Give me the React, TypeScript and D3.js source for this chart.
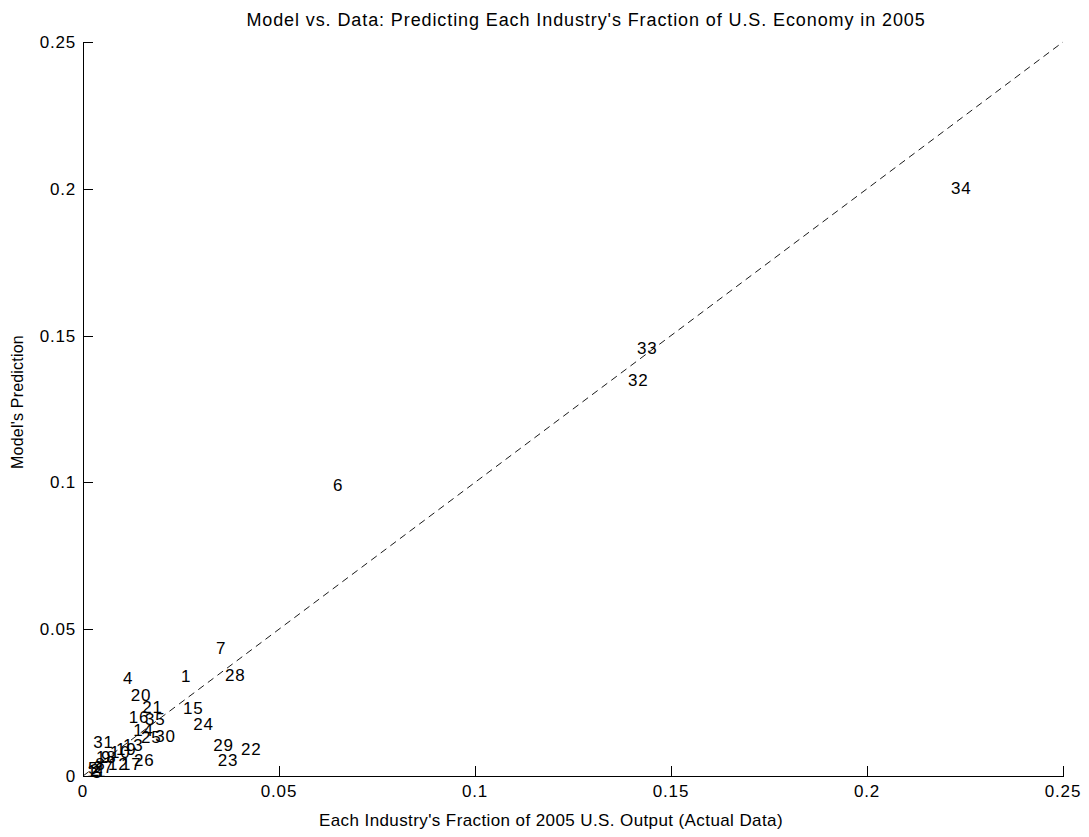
import React from "react";
import * as d3 from "d3";

// Industry numbers and their (actual share, predicted share) of 2005 U.S. output
const industries = [
  1, 2, 3, 4, 5, 6, 7, 8, 9, 10, 11, 12, 13, 14, 15, 16, 17, 18, 19, 20, 21, 22, 23, 24, 25, 26, 27, 28, 29, 30, 31, 32, 33, 34, 35,
];
const actualShare = [
  0.025, 0.0018, 0.0023, 0.0102, 0.0013, 0.0638, 0.0339, 0.0031, 0.0046, 0.0069, 0.001, 0.0064, 0.0102, 0.0128, 0.0255, 0.0117,
  0.0097, 0.0033, 0.0084, 0.0122, 0.0151, 0.0403, 0.0344, 0.0281, 0.0148, 0.013, 0.0026, 0.0362, 0.0332, 0.0184, 0.0026, 0.139,
  0.1413, 0.2214, 0.0158,
];
const predictedShare = [
  0.0341, 0.002, 0.0014, 0.0334, 0.0027, 0.0991, 0.0436, 0.0041, 0.0065, 0.0082, 0.0017, 0.0041, 0.0106, 0.0157, 0.0232, 0.0201,
  0.0041, 0.0065, 0.0092, 0.0276, 0.0235, 0.0092, 0.0054, 0.0177, 0.0133, 0.0054, 0.0031, 0.0344, 0.0106, 0.0136, 0.0116, 0.1349,
  0.1458, 0.2003, 0.0194,
];
const xTicks = [0, 0.05, 0.1, 0.15, 0.2, 0.25];
const yTicks = [0, 0.05, 0.1, 0.15, 0.2, 0.25];
const titleText = "Model vs. Data: Predicting Each Industry's Fraction of U.S. Economy in 2005";
const xLabelText = "Each Industry's Fraction of 2005 U.S. Output (Actual Data)";
const yLabelText = "Model's Prediction";

const W = 1089;
const H = 837;
const left = 83;
const right = 1063;
const top = 42;
const bottom = 776;
const font = "'Liberation Sans', Arial, sans-serif";
const fs = 17;
const tickLen = 10;

export default function App() {
  const x = d3.scaleLinear().domain([0, 0.25]).range([left, right]);
  const y = d3.scaleLinear().domain([0, 0.25]).range([bottom, top]);
  const fmt = (v: number) => (v === 0 ? "0" : String(+v.toFixed(2)));

  const refLine = d3
    .line<[number, number]>()
    .x((d) => x(d[0]))
    .y((d) => y(d[1]))([
    [0, 0],
    [0.25, 0.25],
  ]);

  return (
    <svg
      width={W}
      height={H}
      style={{ position: "absolute", left: 0, top: 0, background: "#fff" }}
      fontFamily={font}
      fontSize={fs}
    >
      <rect x={0} y={0} width={W} height={H} fill="#fff" />
      {/* 45-degree reference line */}
      <path d={refLine ?? ""} fill="none" stroke="#000" strokeWidth={0.9} strokeDasharray="7 5" />

      {/* axes */}
      <g shapeRendering="crispEdges" stroke="#000" strokeWidth={1}>
        <line x1={left + 0.5} x2={left + 0.5} y1={top} y2={bottom + 0.5} />
        <line x1={left} x2={right + 0.5} y1={bottom + 0.5} y2={bottom + 0.5} />
        {xTicks.map((t) => (
          <line key={"xt" + t} x1={Math.round(x(t)) + 0.5} x2={Math.round(x(t)) + 0.5} y1={bottom} y2={bottom - tickLen} />
        ))}
        {yTicks.map((t) => (
          <line key={"yt" + t} x1={left} x2={left + tickLen} y1={Math.round(y(t)) + 0.5} y2={Math.round(y(t)) + 0.5} />
        ))}
      </g>
      <g fill="#000" letterSpacing={0.8}>
        {xTicks.map((t) => (
          <text key={"xl" + t} x={x(t)} y={bottom + 21} textAnchor="middle">
            {fmt(t)}
          </text>
        ))}
        {yTicks.map((t) => (
          <text key={"yl" + t} x={left - 7} y={y(t)} dy="0.35em" textAnchor="end">
            {fmt(t)}
          </text>
        ))}
      </g>

      {/* industry labels placed at their data points */}
      <g fill="#000" letterSpacing={0.8}>
        {industries.map((id, i) => (
          <text key={"p" + id} x={x(actualShare[i])} y={y(predictedShare[i])} dy="0.35em">
            {id}
          </text>
        ))}
      </g>

      <text x={586} y={26} textAnchor="middle" fill="#000" fontSize={18} letterSpacing={0.9}>
        {titleText}
      </text>
      <text x={551} y={826} textAnchor="middle" fill="#000" letterSpacing={0.4}>
        {xLabelText}
      </text>
      <text
        transform={`translate(23,${402}) rotate(-90)`}
        textAnchor="middle"
        fill="#000"
        fontSize={16}
        letterSpacing={0.2}
      >
        {yLabelText}
      </text>
    </svg>
  );
}
